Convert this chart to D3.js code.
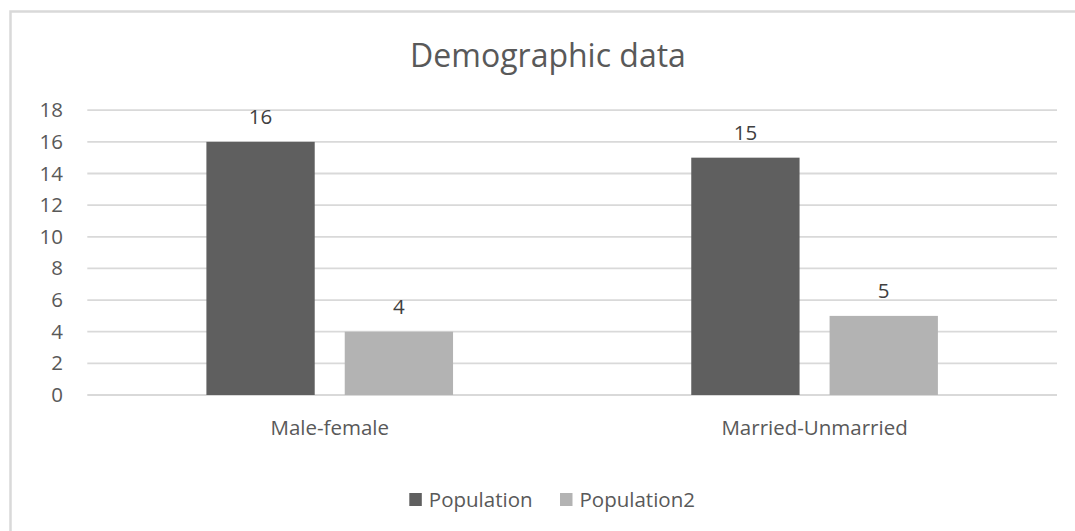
<!DOCTYPE html>
<html>
<head>
<meta charset="utf-8">
<script src="https://cdn.jsdelivr.net/npm/d3@7/dist/d3.min.js"></script>
<style>
  html, body { margin: 0; padding: 0; background: #ffffff; }
  svg { display: block; font-family: "Open Sans", sans-serif; }
</style>
</head>
<body>
<svg id="chart" width="1075" height="531"></svg>
<script>
// Chart data
const categories = ["Male-female", "Married-Unmarried"];
const seriesNames = ["Population", "Population2"];
const population = [16, 15];
const population2 = [4, 5];
const yTicks = [0, 2, 4, 6, 8, 10, 12, 14, 16, 18];
const chartTitle = "Demographic data";

const seriesValues = [population, population2];
const colors = ["#5f5f5f", "#b3b3b3"];
const textColor = "#595959";
const gridColor = "#d9d9d9";

const svg = d3.select("#chart");

// Outer frame of the chart area (runs past the right and bottom edges)
svg.append("rect")
  .attr("x", 10.5).attr("y", 11.5)
  .attr("width", 1100).attr("height", 600)
  .attr("fill", "#ffffff")
  .attr("stroke", "#d9d9d9")
  .attr("stroke-width", 2.5);

// Scales
const x0 = d3.scaleBand()
  .domain(categories)
  .range([87.3, 1057])
  .paddingInner(0).paddingOuter(0);

const x1 = d3.scaleBand()
  .domain(seriesNames)
  .range([0, x0.bandwidth()])
  .paddingInner(0.217)
  .paddingOuter(0.861);

const y = d3.scaleLinear().domain([0, 18]).range([395, 110.2]);

// Horizontal gridlines
svg.append("g")
  .selectAll("line")
  .data(yTicks)
  .join("line")
  .attr("x1", x0.range()[0]).attr("x2", x0.range()[1])
  .attr("y1", d => y(d)).attr("y2", d => y(d))
  .attr("stroke", gridColor)
  .attr("stroke-width", 1.8);

// Y axis tick labels
const yAxis = d3.axisLeft(y).tickValues(yTicks).tickSize(0).tickPadding(0);
const yg = svg.append("g")
  .attr("transform", "translate(63,0)")
  .call(yAxis);
yg.select(".domain").remove();
yg.selectAll("text")
  .attr("fill", textColor)
  .style("font-size", "20.5px")
  .style("font-family", "'Open Sans', sans-serif");

// Bars
const groups = svg.append("g")
  .selectAll("g")
  .data(categories)
  .join("g")
  .attr("transform", c => `translate(${x0(c)},0)`);

groups.selectAll("rect")
  .data((c, i) => seriesNames.map((s, k) => ({ s, v: seriesValues[k][i], k })))
  .join("rect")
  .attr("x", d => x1(d.s))
  .attr("width", x1.bandwidth())
  .attr("y", d => y(d.v))
  .attr("height", d => y(0) - y(d.v))
  .attr("fill", d => colors[d.k]);

// Value labels above bars
groups.selectAll("text")
  .data((c, i) => seriesNames.map((s, k) => ({ s, v: seriesValues[k][i], k })))
  .join("text")
  .attr("x", d => x1(d.s) + x1.bandwidth() / 2)
  .attr("y", d => y(d.v) - 17.5)
  .attr("text-anchor", "middle")
  .attr("fill", "#404040")
  .style("font-size", "20.5px")
  .text(d => d.v);

// Category axis labels
const xAxis = d3.axisBottom(x0).tickSize(0).tickPadding(0);
const xg = svg.append("g")
  .attr("transform", "translate(0,420)")
  .call(xAxis);
xg.select(".domain").remove();
xg.selectAll("text")
  .attr("fill", textColor)
  .attr("dy", "0.71em")
  .style("font-size", "20.5px")
  .style("font-family", "'Open Sans', sans-serif");

// Title
svg.append("text")
  .attr("x", 548).attr("y", 67.3)
  .attr("text-anchor", "middle")
  .attr("fill", textColor)
  .style("font-size", "32px")
  .text(chartTitle);

// Legend
const legendX = [409.3, 560];
const legend = svg.append("g")
  .selectAll("g")
  .data(seriesNames)
  .join("g")
  .attr("transform", (d, i) => `translate(${legendX[i]},493)`);
legend.append("rect")
  .attr("width", 12.5).attr("height", 13)
  .attr("fill", (d, i) => colors[i]);
legend.append("text")
  .attr("x", 19.5).attr("y", 14.3)
  .attr("fill", textColor)
  .style("font-size", "20.5px")
  .text(d => d);
</script>
</body>
</html>
